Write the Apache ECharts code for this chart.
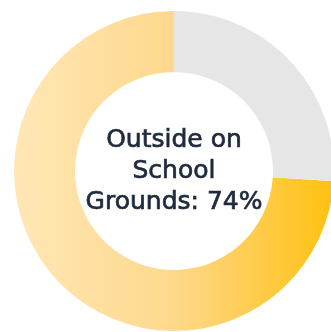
<!DOCTYPE html>
<html>
<head>
<meta charset="utf-8">
<script src="https://cdn.jsdelivr.net/npm/echarts@6/dist/echarts.min.js"></script>
<style>
html,body{margin:0;padding:0;background:#fff;}
#chart{width:331px;height:332px;}
</style>
</head>
<body>
<div id="chart"></div>
<script>
const categories = ["Outside on School Grounds", "Other"];
const values = [74, 26];
const centerLabel = "Outside on\nSchool\nGrounds: 74%";

const chart = echarts.init(document.getElementById('chart'), null, {renderer: 'canvas'});
const yellowGrad = new echarts.graphic.LinearGradient(14, 0, 334, 0, [
  {offset: 0, color: '#FFE7B6'},
  {offset: 0.5, color: '#FED88C'},
  {offset: 1, color: '#FFC10F'}
], true);
chart.setOption({
  animation: false,
  series: [{
    type: 'pie',
    center: [174, 171],
    radius: [99, 160],
    startAngle: 90,
    clockwise: false,
    label: {show: false},
    labelLine: {show: false},
    emphasis: {disabled: true},
    data: [
      {name: categories[0], value: values[0], itemStyle: {color: yellowGrad}},
      {name: categories[1], value: values[1], itemStyle: {color: '#E6E6E6'}}
    ]
  }],
  graphic: [{
    type: 'text',
    x: 174,
    y: 171,
    style: {
      text: centerLabel,
      fontFamily: 'DejaVu Sans',
      fontSize: 25,
      lineHeight: 31,
      fill: '#1F2A3D',
      stroke: '#1F2A3D',
      lineWidth: 0.7,
      align: 'center',
      verticalAlign: 'middle'
    }
  }]
});
</script>
</body>
</html>
